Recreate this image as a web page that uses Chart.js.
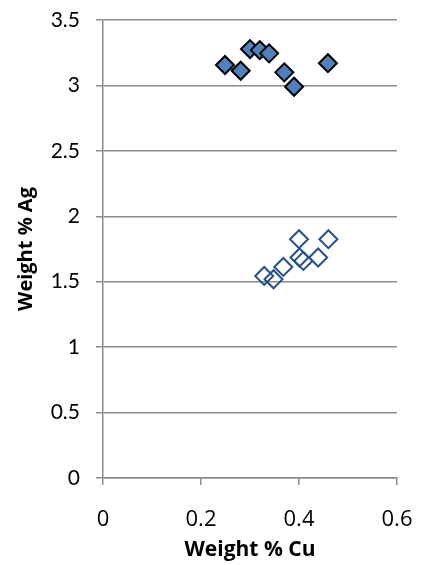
<!DOCTYPE html>
<html>
<head>
<meta charset="utf-8">
<script src="https://cdn.jsdelivr.net/npm/chart.js@4/dist/chart.umd.min.js"></script>
<style>
  html, body { margin: 0; padding: 0; background: #ffffff; }
  #wrap { width: 421px; height: 565px; }
</style>
</head>
<body>
<div id="wrap"><canvas id="c" width="421" height="565"></canvas></div>
<script>
// Filled series: Cu / Ag weight percentages
const filledCu = [0.249, 0.281, 0.300, 0.320, 0.339, 0.370, 0.390, 0.459];
const filledAg = [3.156, 3.112, 3.278, 3.270, 3.245, 3.100, 2.990, 3.170];

// Open series: Cu / Ag weight percentages
const openCu = [0.400, 0.460, 0.329, 0.348, 0.368, 0.401, 0.409, 0.439];
const openAg = [1.825, 1.825, 1.544, 1.519, 1.613, 1.685, 1.659, 1.685];

// Axis ranges and tick steps
const xRange = [0, 0.6], xStep = 0.2;
const yRange = [0, 3.5], yStep = 0.5;

const toPoints = (xs, ys) => xs.map((x, i) => ({ x: x, y: ys[i] }));

const gridColor = '#8c8c8c';

new Chart(document.getElementById('c'), {
  type: 'scatter',
  data: {
    datasets: [
      {
        label: 'Filled',
        data: toPoints(filledCu, filledAg),
        pointStyle: 'rectRot',
        pointRadius: 9,
        pointHoverRadius: 9,
        backgroundColor: '#4f81bd',
        borderColor: '#000000',
        borderWidth: 2
      },
      {
        label: 'Open',
        data: toPoints(openCu, openAg),
        pointStyle: 'rectRot',
        pointRadius: 9,
        pointHoverRadius: 9,
        backgroundColor: 'rgba(255,255,255,0)',
        borderColor: '#25528f',
        borderWidth: 2
      }
    ]
  },
  options: {
    responsive: false,
    animation: false,
    events: [],
    layout: { padding: { top: 20, right: 24, left: 0, bottom: 0 } },
    plugins: { legend: { display: false }, tooltip: { enabled: false } },
    scales: {
      x: {
        type: 'linear',
        min: xRange[0], max: xRange[1],
        afterFit: s => { s.height = 87; s.paddingLeft = 0; s.paddingRight = 0; },
        ticks: {
          stepSize: xStep,
          color: '#000',
          padding: 22,
          font: { family: 'Open Sans', size: 22 },
          callback: v => String(Math.round(v * 10) / 10)
        },
        grid: { drawOnChartArea: false, drawTicks: true, tickLength: 7, color: gridColor, lineWidth: 1.5 },
        border: { display: true, color: gridColor, width: 1.5 },
        title: {
          display: true,
          text: 'Weight % Cu',
          color: '#000',
          font: { family: 'Open Sans', size: 21, weight: 'bold' },
          padding: { top: 0, bottom: 2 }
        }
      },
      y: {
        type: 'linear',
        min: yRange[0], max: yRange[1],
        afterFit: s => { s.width = 103; s.paddingTop = 0; s.paddingBottom = 0; },
        ticks: {
          stepSize: yStep,
          color: '#000',
          padding: 16,
          font: { family: 'Lato', size: 21 },
          callback: v => String(Math.round(v * 10) / 10)
        },
        grid: { drawOnChartArea: true, drawTicks: true, tickLength: 7, color: gridColor, lineWidth: 1.5 },
        border: { display: true, color: gridColor, width: 1.5 },
        title: {
          display: true,
          text: 'Weight % Ag',
          color: '#000',
          font: { family: 'Open Sans', size: 20, weight: 'bold' },
          padding: { top: 14, bottom: 0 }
        }
      }
    }
  }
});
</script>
</body>
</html>
